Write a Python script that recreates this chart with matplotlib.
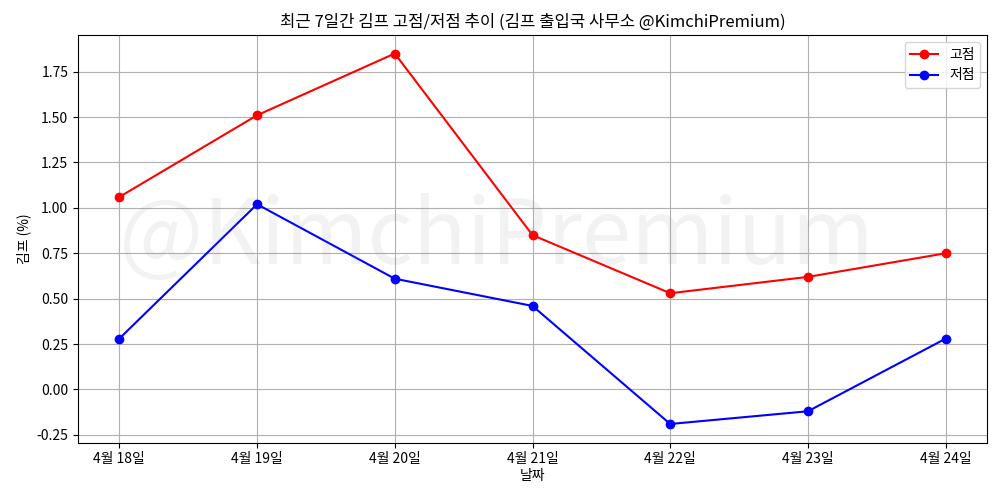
import matplotlib
matplotlib.use("Agg")
import matplotlib.pyplot as plt

plt.rcParams['font.family'] = ['Noto Sans CJK KR', 'DejaVu Sans']
plt.rcParams['axes.unicode_minus'] = False

dates = ["4월 18일", "4월 19일", "4월 20일", "4월 21일", "4월 22일", "4월 23일", "4월 24일"]
high = [1.06, 1.51, 1.85, 0.85, 0.53, 0.62, 0.75]
low = [0.28, 1.02, 0.61, 0.46, -0.19, -0.12, 0.28]

fig, ax = plt.subplots(figsize=(10, 5), dpi=100)
ax.plot(dates, high, color='red', marker='o', label='고점')
ax.plot(dates, low, color='blue', marker='o', label='저점')
ax.set_title("최근 7일간 김프 고점/저점 추이 (김프 출입국 사무소 @KimchiPremium)")
ax.set_xlabel("날짜", labelpad=2)
ax.set_ylabel("김프 (%)")
ax.grid(True)
ax.legend(loc='upper right')
ax.text(0.46, 0.5, "@KimchiPremium", transform=ax.transAxes, fontsize=64,
        color='gray', alpha=0.1, ha='center', va='center')
fig.subplots_adjust(left=0.078, right=0.987, top=0.93, bottom=0.115)
fig.savefig("out.png")
